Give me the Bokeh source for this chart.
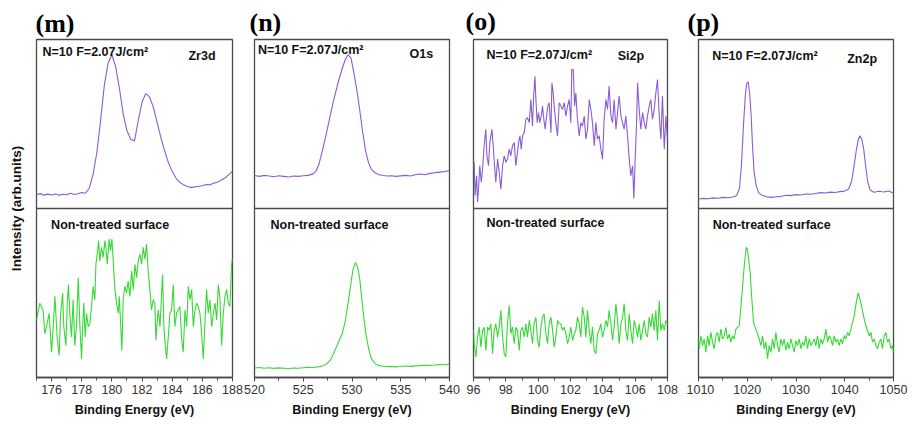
from bokeh.plotting import figure
from bokeh.layouts import row
from bokeh.models import Range1d, LinearAxis, FixedTicker, Span, Label
from bokeh.embed import file_html
from bokeh.resources import INLINE

# ---------------- data (binding energy eV, intensity arb. units 0-100 per sub-panel) ----------------
m_top = [(175.0, 8.2), (175.25, 8.8), (175.5, 7.9), (175.75, 8.5), (176.0, 8.0), (176.25, 8.6), (176.5, 7.8),
         (176.75, 8.4), (177.0, 8.1), (177.25, 9.0), (177.5, 8.3), (177.75, 8.7), (178.0, 9.5), (178.25, 9.0),
         (178.5, 12), (178.75, 20), (179.0, 33), (179.25, 52), (179.5, 73), (179.75, 86), (180.0, 91),
         (180.25, 84), (180.5, 71), (180.75, 56), (181.0, 46), (181.25, 41), (181.5, 40), (181.75, 52),
         (182.0, 63), (182.25, 68), (182.5, 66), (182.75, 60), (183.0, 51), (183.25, 42), (183.5, 34),
         (183.75, 27), (184.0, 22), (184.25, 18), (184.5, 15.5), (184.75, 14), (185.0, 13), (185.25, 12.5),
         (185.5, 12.8), (185.75, 13.2), (186.0, 13.5), (186.25, 14.2), (186.5, 14), (186.75, 15), (187.0, 15.5),
         (187.25, 16.8), (187.5, 18), (187.75, 20), (188.0, 22)]

m_bot = [(175.00, 34), (175.22, 44), (175.44, 40), (175.55, 26), (175.66, 30), (175.84, 38), (176.00, 15),
         (176.11, 30), (176.22, 48), (176.37, 24), (176.50, 13), (176.59, 36), (176.73, 50), (176.81, 30),
         (176.95, 19), (177.04, 44), (177.12, 55), (177.21, 38), (177.32, 24), (177.43, 46), (177.54, 19),
         (177.65, 30), (177.77, 59), (177.88, 30), (177.99, 11), (178.05, 28), (178.14, 44), (178.23, 24),
         (178.32, 38), (178.43, 30), (178.54, 32), (178.65, 42), (178.76, 54), (178.87, 46), (178.94, 67),
         (179.03, 73), (179.12, 81), (179.20, 69), (179.31, 77), (179.42, 71), (179.54, 81), (179.60, 77),
         (179.69, 67), (179.82, 82), (179.91, 75), (180.00, 82), (180.09, 69), (180.20, 52), (180.31, 44),
         (180.42, 38), (180.49, 48), (180.58, 32), (180.66, 16), (180.75, 46), (180.86, 54), (180.97, 50),
         (181.08, 57), (181.19, 48), (181.31, 63), (181.42, 52), (181.53, 67), (181.64, 59), (181.75, 69),
         (181.86, 73), (181.97, 67), (182.08, 77), (182.19, 70), (182.30, 79), (182.41, 63), (182.52, 52),
         (182.63, 40), (182.74, 46), (182.85, 44), (182.92, 22), (183.01, 34), (183.08, 40), (183.19, 30),
         (183.30, 50), (183.36, 61), (183.45, 30), (183.54, 19), (183.63, 11), (183.74, 24), (183.85, 38),
         (183.96, 40), (184.07, 55), (184.18, 30), (184.29, 38), (184.40, 40), (184.51, 42), (184.62, 24),
         (184.73, 15), (184.85, 40), (184.96, 30), (185.07, 54), (185.18, 46), (185.29, 52), (185.40, 30),
         (185.51, 40), (185.62, 44), (185.73, 42), (185.84, 38), (185.95, 26), (186.06, 11), (186.17, 32),
         (186.28, 52), (186.39, 38), (186.50, 46), (186.62, 30), (186.73, 38), (186.84, 44), (186.95, 34),
         (187.06, 55), (187.17, 46), (187.28, 19), (187.39, 38), (187.50, 48), (187.61, 52), (187.72, 44),
         (187.83, 42), (187.94, 67), (188.0, 70)]

n_top = [(520.0, 19.5), (520.5, 19.0), (521.0, 19.6), (521.5, 19.2), (522.0, 18.8), (522.5, 19.4), (523.0, 19.0),
         (523.5, 18.6), (524.0, 19.2), (524.5, 19.0), (525.0, 19.4), (525.5, 19.6), (526.0, 20.5), (526.3, 22),
         (526.6, 26), (527.0, 35), (527.4, 45), (527.8, 56), (528.2, 66), (528.6, 75), (529.0, 83), (529.3, 88),
         (529.6, 91), (529.9, 89), (530.2, 80), (530.5, 70), (530.8, 58), (531.1, 45), (531.4, 34), (531.7, 27),
         (532.0, 23), (532.4, 21), (532.8, 20), (533.2, 19.5), (533.6, 19.2), (534.0, 19.4), (534.5, 19.0),
         (535.0, 19.3), (535.5, 19.6), (536.0, 19.2), (536.5, 20.0), (537.0, 20.4), (537.5, 20.0), (538.0, 20.8),
         (538.5, 21.2), (539.0, 21.5), (539.5, 21.8), (540.0, 22.5)]

n_bot = [(520.0, 5.6), (520.5, 5.9), (521.0, 5.5), (521.5, 5.8), (522.0, 5.4), (522.5, 5.7), (523.0, 5.5),
         (523.5, 5.3), (524.0, 5.6), (524.5, 5.5), (525.0, 5.8), (525.5, 6.0), (526.0, 5.9), (526.5, 6.3),
         (527.0, 6.8), (527.4, 8.0), (527.8, 10.5), (528.1, 14), (528.4, 18), (528.7, 22), (529.0, 26),
         (529.3, 33), (529.6, 44), (529.9, 56), (530.1, 64), (530.35, 68), (530.6, 65), (530.8, 58), (531.0, 47),
         (531.2, 36), (531.4, 27), (531.7, 17), (532.0, 11), (532.4, 8), (532.8, 7), (533.2, 6.7), (533.6, 6.4),
         (534.0, 6.6), (534.5, 6.3), (535.0, 6.5), (535.5, 6.8), (536.0, 6.6), (536.5, 6.9), (537.0, 7.0),
         (537.5, 7.2), (538.0, 7.1), (538.5, 7.4), (539.0, 7.6), (539.5, 7.5), (540.0, 7.9)]

o_top = [(96.00, 25.3), (96.04, 27.3), (96.10, 7.7), (96.19, 19.4), (96.25, 3.8), (96.31, 11.6), (96.39, 25.3),
         (96.48, 15.5), (96.56, 23.4), (96.66, 37.1), (96.76, 46.9), (96.83, 31.2), (96.93, 25.3), (97.01, 39.0),
         (97.14, 46.9), (97.22, 37.1), (97.30, 25.3), (97.38, 15.5), (97.49, 29.2), (97.59, 21.4), (97.69, 11.6),
         (97.80, 25.3), (97.90, 31.2), (98.00, 27.3), (98.10, 29.2), (98.21, 35.1), (98.31, 31.2), (98.41, 37.1),
         (98.52, 39.0), (98.62, 25.3), (98.72, 33.2), (98.79, 39.0), (98.87, 43.0), (98.95, 35.1), (99.03, 43.0),
         (99.14, 44.9), (99.24, 52.8), (99.34, 53.7), (99.45, 50.8), (99.55, 64.5), (99.65, 48.8), (99.71, 64.5),
         (99.80, 78.2), (99.86, 64.5), (99.94, 50.8), (100.02, 56.7), (100.10, 50.8), (100.19, 54.7),
         (100.27, 60.6), (100.35, 52.8), (100.43, 46.9), (100.52, 54.7), (100.60, 60.6), (100.68, 62.6),
         (100.79, 44.9), (100.85, 74.3), (100.93, 68.4), (100.99, 60.6), (101.09, 50.8), (101.20, 43.0),
         (101.30, 62.6), (101.40, 60.6), (101.51, 58.6), (101.61, 62.6), (101.71, 54.7), (101.82, 60.6),
         (101.92, 64.5), (102.02, 50.8), (102.08, 82.2), (102.17, 82.2), (102.25, 60.6), (102.33, 68.4),
         (102.43, 52.8), (102.54, 43.0), (102.64, 50.8), (102.74, 48.8), (102.85, 54.7), (102.95, 41.0),
         (103.05, 46.9), (103.16, 64.5), (103.26, 58.6), (103.36, 50.8), (103.47, 37.1), (103.57, 50.8),
         (103.67, 41.0), (103.77, 43.0), (103.88, 35.1), (103.98, 29.2), (104.08, 52.8), (104.19, 64.5),
         (104.29, 58.6), (104.39, 72.4), (104.50, 54.7), (104.60, 50.8), (104.70, 64.5), (104.81, 46.9),
         (104.91, 56.7), (105.01, 66.5), (105.12, 54.7), (105.22, 50.8), (105.32, 46.9), (105.42, 54.7),
         (105.53, 43.0), (105.63, 29.2), (105.73, 19.4), (105.84, 25.3), (105.92, 6.0), (106.00, 29.2),
         (106.08, 48.8), (106.15, 74.3), (106.25, 58.6), (106.35, 46.9), (106.46, 56.7), (106.56, 50.8),
         (106.66, 46.9), (106.76, 54.7), (106.87, 60.6), (106.97, 64.5), (107.07, 52.8), (107.18, 58.6),
         (107.28, 68.4), (107.38, 76.3), (107.49, 54.7), (107.59, 41.0), (107.69, 66.5), (107.80, 35.1),
         (107.90, 54.7), (108.00, 41.0)]

o_bot = [(96.00, 27.9), (96.04, 20.0), (96.15, 12.1), (96.25, 23.9), (96.35, 29.8), (96.46, 18.0), (96.56, 27.9),
         (96.66, 29.8), (96.76, 16.0), (96.87, 29.8), (96.97, 27.9), (97.07, 31.8), (97.18, 14.1), (97.28, 27.9),
         (97.38, 31.8), (97.49, 23.9), (97.59, 29.8), (97.69, 39.7), (97.80, 23.9), (97.90, 14.1), (98.00, 12.1),
         (98.10, 31.8), (98.21, 42.6), (98.31, 25.9), (98.41, 29.8), (98.52, 20.0), (98.62, 29.8), (98.72, 27.9),
         (98.83, 16.0), (98.93, 27.9), (99.03, 29.8), (99.14, 23.9), (99.24, 31.8), (99.34, 23.9), (99.45, 33.8),
         (99.55, 27.9), (99.65, 20.0), (99.75, 31.8), (99.86, 35.7), (99.96, 22.0), (100.06, 18.0),
         (100.17, 29.8), (100.27, 35.7), (100.37, 37.7), (100.48, 25.9), (100.58, 20.0), (100.68, 31.8),
         (100.79, 35.7), (100.89, 27.9), (100.99, 18.0), (101.09, 23.9), (101.20, 33.8), (101.30, 31.8),
         (101.40, 31.8), (101.51, 27.9), (101.61, 29.8), (101.71, 25.9), (101.82, 20.0), (101.92, 23.9),
         (102.02, 29.8), (102.13, 22.0), (102.23, 25.9), (102.33, 27.9), (102.43, 35.7), (102.54, 31.8),
         (102.64, 23.9), (102.74, 41.7), (102.85, 35.7), (102.95, 23.9), (103.05, 39.7), (103.16, 27.9),
         (103.26, 20.0), (103.36, 29.8), (103.47, 16.0), (103.57, 14.1), (103.67, 25.9), (103.77, 27.9),
         (103.88, 31.8), (103.98, 23.9), (104.08, 27.9), (104.19, 33.8), (104.29, 29.8), (104.39, 39.7),
         (104.50, 31.8), (104.60, 22.0), (104.70, 29.8), (104.81, 43.6), (104.91, 33.8), (105.01, 20.0),
         (105.12, 31.8), (105.22, 35.7), (105.32, 43.6), (105.42, 27.9), (105.53, 22.0), (105.63, 37.7),
         (105.73, 27.9), (105.84, 20.0), (105.94, 33.8), (106.04, 29.8), (106.15, 23.9), (106.25, 31.8),
         (106.35, 22.0), (106.46, 27.9), (106.56, 33.8), (106.66, 25.9), (106.76, 23.9), (106.87, 35.7),
         (106.97, 29.8), (107.07, 37.7), (107.18, 27.9), (107.28, 39.7), (107.38, 22.0), (107.49, 45.6),
         (107.59, 27.9), (107.69, 31.8), (107.80, 27.9), (107.90, 33.8), (108.00, 31.8)]

p_top = [(1010, 5.6), (1011, 6.0), (1012, 5.8), (1013, 6.3), (1014, 6.1), (1015, 6.6), (1016, 6.4), (1017, 6.8),
         (1017.8, 7.5), (1018.4, 12), (1018.8, 25), (1019.2, 48), (1019.6, 67), (1019.9, 74), (1020.2, 75),
         (1020.5, 68), (1020.8, 55), (1021.1, 36), (1021.4, 22), (1021.8, 14), (1022.3, 9.5), (1023, 7.8),
         (1024, 6.9), (1025, 6.6), (1026, 7.0), (1027, 7.2), (1028, 7.8), (1029, 7.6), (1030, 8.2), (1031, 8.0),
         (1032, 8.6), (1033, 8.4), (1034, 8.9), (1035, 9.4), (1036, 9.2), (1037, 9.7), (1038, 9.5), (1039, 10.0),
         (1040, 10.3), (1040.8, 11.5), (1041.4, 16), (1041.9, 25), (1042.4, 35), (1042.8, 41), (1043.1, 43),
         (1043.5, 41), (1043.9, 35), (1044.3, 25), (1044.7, 16), (1045.2, 11), (1046, 9.6), (1047, 10.2),
         (1048, 9.8), (1049, 10.4), (1050, 9.0)]

p_bot = [(1010.00, 22.8), (1010.14, 17.0), (1010.48, 24.7), (1010.83, 18.9), (1011.17, 22.8), (1011.51, 15.0),
         (1011.85, 24.7), (1012.19, 18.9), (1012.54, 26.7), (1012.88, 20.9), (1013.22, 17.0), (1013.56, 24.7),
         (1013.90, 26.7), (1014.24, 20.9), (1014.59, 28.6), (1014.93, 22.8), (1015.27, 24.7), (1015.61, 29.6),
         (1015.95, 22.8), (1016.30, 25.7), (1016.64, 20.9), (1016.98, 24.7), (1017.32, 22.8), (1017.66, 28.6),
         (1018.01, 29.6), (1018.35, 30.6), (1018.83, 46.0), (1019.37, 65.7), (1019.80, 77.0), (1020.06, 75.5),
         (1020.60, 61.8), (1020.95, 46.0), (1021.29, 32.5), (1021.77, 28.6), (1022.45, 22.8), (1022.79, 18.9),
         (1023.13, 24.7), (1023.48, 17.0), (1023.82, 20.9), (1024.16, 11.1), (1024.50, 18.9), (1024.84, 15.0),
         (1025.18, 22.8), (1025.53, 17.0), (1025.87, 26.7), (1026.21, 18.9), (1026.55, 15.0), (1026.89, 22.8),
         (1027.24, 18.9), (1027.58, 22.8), (1027.92, 16.0), (1028.26, 20.9), (1028.60, 17.0), (1028.95, 22.8),
         (1029.29, 18.9), (1029.63, 15.0), (1029.97, 21.8), (1030.31, 18.9), (1030.66, 22.8), (1031.00, 17.0),
         (1031.34, 20.9), (1031.68, 18.9), (1032.02, 24.7), (1032.36, 17.0), (1032.71, 22.8), (1033.05, 18.9),
         (1033.39, 20.9), (1033.73, 22.8), (1034.07, 18.9), (1034.42, 24.7), (1034.76, 17.0), (1035.10, 22.8),
         (1035.44, 19.9), (1035.78, 22.8), (1036.13, 28.6), (1036.47, 20.9), (1036.81, 24.7), (1037.15, 22.8),
         (1037.49, 18.9), (1037.83, 24.7), (1038.18, 20.9), (1038.52, 22.8), (1038.86, 18.9), (1039.20, 22.8),
         (1039.54, 19.9), (1039.89, 24.7), (1040.23, 22.8), (1040.57, 26.7), (1040.91, 24.7), (1041.25, 28.6),
         (1041.94, 36.5), (1042.35, 44.3), (1042.76, 50.1), (1043.30, 44.3), (1043.85, 36.5), (1044.33, 30.6),
         (1045.01, 24.7), (1045.36, 26.7), (1045.70, 20.9), (1046.04, 22.8), (1046.38, 18.9), (1046.72, 17.0),
         (1047.07, 20.9), (1047.41, 22.8), (1047.75, 17.0), (1048.09, 24.7), (1048.43, 26.7), (1048.77, 20.9),
         (1049.12, 22.8), (1049.46, 17.0), (1049.80, 18.9), (1050.00, 15.0)]

panel_letters = ["(m)", "(n)", "(o)", "(p)"]
elements = ["Zr3d", "O1s", "Si2p", "Zn2p"]
x_limits = [(175, 188), (520, 540), (96, 108), (1010, 1050)]
major_ticks = [[176, 178, 180, 182, 184, 186, 188],
               [520, 525, 530, 535, 540],
               [96, 98, 100, 102, 104, 106, 108],
               [1010, 1020, 1030, 1040, 1050]]
minor_ticks = [[175, 177, 179, 181, 183, 185, 187],
               [522.5, 527.5, 532.5, 537.5],
               [97, 99, 101, 103, 105, 107],
               [1015, 1025, 1035, 1045]]
condition_text = "N=10 F=2.07J/cm\u00b2"
reference_text = "Non-treated surface"

# ---------------- layout / style ----------------
PURPLE = "#8a5cd6"
GREEN = "#36d936"
FRAME = "#4a4a4a"
SANS = "Liberation Sans"
SERIF = "Liberation Serif"

# (left border, frame width, right border, frame top, frame bottom, title offset, title standoff)
geom = [(36, 196, 11, 34, 377, -1, 3),
        (11, 195, 13, 36, 377, -5, 5),
        (11, 194, 19, 39, 377, -8, 8),
        (12, 195, 20, 37, 379, -11, 6)]
# text anchors in data coordinates: (cond x, cond y, element x, element y, ref x, ref y)
anchors = [(175.40, 192.4, 185.08, 190.0, 175.97, 90.4),
           (520.35, 193.9, 535.9, 191.2, 521.64, 90.3),
           (96.8, 190.8, 104.92, 190.5, 96.8, 91.4),
           (1012.8, 190.1, 1040.5, 188.5, 1012.9, 90.4)]

H = 424
top_series = [m_top, n_top, o_top, p_top]
bot_series = [m_bot, n_bot, o_bot, p_bot]

figs = []
for i in range(4):
    L, FW, R, T, B, toff, tstand = geom[i]
    fig = figure(width=L + FW + R, height=H,
                 x_range=Range1d(*x_limits[i]), y_range=Range1d(0, 200),
                 output_backend="svg", toolbar_location=None,
                 y_axis_location=None, x_axis_location="below",
                 min_border_left=L, min_border_right=R,
                 min_border_top=T, min_border_bottom=H - B,
                 title=panel_letters[i])
    fig.extra_y_ranges = {"top": Range1d(-100, 100)}
    fig.grid.visible = False
    fig.background_fill_color = "white"
    fig.border_fill_color = "white"
    fig.outline_line_color = FRAME
    fig.outline_line_width = 1.3

    fig.title.text_font = SERIF
    fig.title.text_font_size = "26px"
    fig.title.text_font_style = "bold"
    fig.title.text_color = "black"
    fig.title.align = "left"
    fig.title.offset = toff
    fig.title.standoff = tstand

    xb, yb = zip(*bot_series[i])
    xt, yt = zip(*top_series[i])
    fig.line(list(xb), list(yb), line_color=GREEN, line_width=1.1)
    fig.line(list(xt), list(yt), line_color=PURPLE, line_width=1.1, y_range_name="top")

    fig.add_layout(Span(location=100, dimension="width", line_color=FRAME, line_width=1.3))

    ax = fig.xaxis[0]
    ax.ticker = FixedTicker(ticks=major_ticks[i], minor_ticks=minor_ticks[i])
    ax.axis_line_color = FRAME
    ax.axis_line_width = 1.3
    ax.major_tick_in = 0
    ax.major_tick_out = 4
    ax.minor_tick_in = 0
    ax.minor_tick_out = 3
    ax.major_tick_line_color = FRAME
    ax.minor_tick_line_color = FRAME
    ax.major_label_text_font = SANS
    ax.major_label_text_font_size = "12.5px"
    ax.major_label_text_color = "#333333"
    ax.major_label_standoff = 3
    ax.axis_label = "Binding Energy (eV)"
    ax.axis_label_text_font = SANS
    ax.axis_label_text_font_size = "12.5px"
    ax.axis_label_text_font_style = "bold"
    ax.axis_label_text_color = "#111111"
    ax.axis_label_standoff = 6

    if i == 0:
        yax = LinearAxis(ticker=FixedTicker(ticks=[]), axis_label="Intensity (arb.units)",
                         axis_line_color=None, major_tick_line_color=None, minor_tick_line_color=None,
                         axis_label_text_font=SANS, axis_label_text_font_size="13.5px",
                         axis_label_text_font_style="bold", axis_label_text_color="#111111",
                         axis_label_standoff=13)
        fig.add_layout(yax, "left")

    cx, cy, ex, ey, rx, ry = anchors[i]
    fig.add_layout(Label(x=cx, y=cy, text=condition_text, text_font=SANS, text_font_size="12.5px",
                         text_font_style="bold", text_baseline="middle", text_align="left",
                         text_color="#111111"))
    fig.add_layout(Label(x=ex, y=ey, text=elements[i], text_font=SANS, text_font_size="12.5px",
                         text_font_style="bold", text_baseline="middle", text_align="left",
                         text_color="#111111"))
    fig.add_layout(Label(x=rx, y=ry, text=reference_text, text_font=SANS, text_font_size="12.5px",
                         text_font_style="bold", text_baseline="middle", text_align="left",
                         text_color="#111111"))
    figs.append(fig)

layout = row(*figs, spacing=0)
open("out.html", "w").write(file_html(layout, INLINE))
